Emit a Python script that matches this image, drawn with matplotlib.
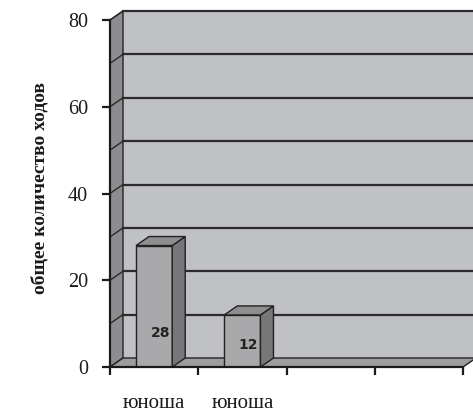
import matplotlib
matplotlib.use("Agg")
import matplotlib.pyplot as plt
from matplotlib.patches import Polygon

categories = ["юноша", "юноша", "", ""]
values = [28, 12, None, None]
bar_labels = ["28", "12", "", ""]
y_ticks = [0, 20, 40, 60, 80]
y_label = "общее количество ходов"

W, H = 473, 412
fig = plt.figure(figsize=(W / 100, H / 100), dpi=100)
fig.patch.set_facecolor("white")

# axes in pixel geometry
ax_left, ax_right = 110, 473
ax_bottom_px, ax_top_px = 367, 9
ax = fig.add_axes([ax_left / W, (H - ax_bottom_px) / H,
                   (ax_right - ax_left) / W, (ax_bottom_px - ax_top_px) / H])
px_x = 88.25            # pixels per category
px_y = 347 / 80         # pixels per unit
xmax = (ax_right - ax_left) / px_x
ymax = (ax_bottom_px - ax_top_px) / px_y
ax.set_xlim(0, xmax)
ax.set_ylim(0, ymax)
ax.set_facecolor("none")

dx = 13 / px_x
dy = 9 / px_y
ncat = len(categories)
ytop = y_ticks[-1]

wall_c = "#c0c1c5"
side_c = "#8d8d90"
floor_c = "#9d9da0"
grid_c = "#2b2b2b"
edge_c = "#222222"

# back wall
ax.add_patch(Polygon([(dx, dy), (xmax + 1, dy), (xmax + 1, ytop + dy), (dx, ytop + dy)],
                     closed=True, facecolor=wall_c, edgecolor="none", zorder=1))
# side wall
ax.add_patch(Polygon([(0, 0), (0, ytop), (dx, ytop + dy), (dx, dy)],
                     closed=True, facecolor=side_c, edgecolor=edge_c, lw=1.0, zorder=2))
# floor
ax.add_patch(Polygon([(0, 0), (ncat, 0), (ncat + dx, dy), (dx, dy)],
                     closed=True, facecolor=floor_c, edgecolor=edge_c, lw=1.0, zorder=2))

# gridlines every 10
for g in range(10, ytop + 1, 10):
    ax.plot([dx, xmax + 1], [g + dy, g + dy], color=grid_c, lw=1.6, zorder=3, clip_on=True)
    ax.plot([0, dx], [g, g + dy], color=grid_c, lw=1.0, zorder=3)

# bars
bw = 0.41
for i, v in enumerate(values):
    if v is None:
        continue
    c = i + 0.5
    x0, x1 = c - bw / 2, c + bw / 2
    ax.add_patch(Polygon([(x0, 0), (x1, 0), (x1, v), (x0, v)], closed=True,
                         facecolor="#a9a9ac", edgecolor=edge_c, lw=1.0, zorder=5))
    ax.add_patch(Polygon([(x1, 0), (x1 + dx, dy), (x1 + dx, v + dy), (x1, v)], closed=True,
                         facecolor="#77777a", edgecolor=edge_c, lw=1.0, zorder=5))
    ax.add_patch(Polygon([(x0, v), (x1, v), (x1 + dx, v + dy), (x0 + dx, v + dy)], closed=True,
                         facecolor="#8e8e91", edgecolor=edge_c, lw=1.0, zorder=5))
    ax.text(c + 0.07, 3 + v * 0.17, bar_labels[i], ha="center", va="center",
            fontsize=10, fontweight="bold", family="DejaVu Sans Condensed",
            color="#222222", zorder=6)

# axes lines
for s in ["top", "right"]:
    ax.spines[s].set_visible(False)
ax.spines["left"].set_bounds(0, ytop)
ax.spines["bottom"].set_bounds(0, ncat)
for s in ["left", "bottom"]:
    ax.spines[s].set_linewidth(1.6)
    ax.spines[s].set_color("#1a1a1a")
    ax.spines[s].set_zorder(7)

ax.set_yticks(y_ticks)
ax.set_yticklabels([str(t) for t in y_ticks], family="Liberation Serif", fontsize=14.5,
                   color="#1a1a1a")
ax.set_xticks(range(ncat + 1))
ax.set_xticklabels([])
ax.tick_params(axis="both", direction="out", length=6, width=1.6, color="#1a1a1a")
ax.tick_params(axis="y", pad=10)

for i, cat in enumerate(categories):
    if cat:
        ax.text(i + 0.5, -36 / px_y, cat, ha="center", va="center",
                family="Liberation Serif", fontsize=15, color="#1a1a1a")

fig.text(40 / W, 1 - 188 / H, y_label, rotation=90, ha="center", va="center",
         family="Liberation Serif", fontweight="bold", fontsize=14, color="#1a1a1a")

fig.savefig("out.png", dpi=100, facecolor="white")
